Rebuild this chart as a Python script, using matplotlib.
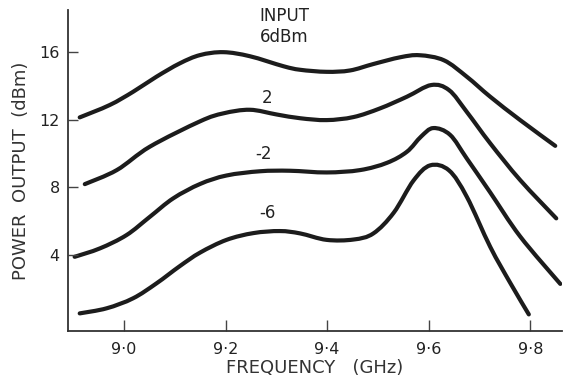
import matplotlib
matplotlib.use("Agg")
import matplotlib.pyplot as plt
from matplotlib.path import Path
from matplotlib.patches import PathPatch
import numpy as np

# Data
freq_6 = [8.913, 8.972, 9.018, 9.064, 9.110, 9.150, 9.196, 9.248, 9.314, 9.347, 9.399, 9.445, 9.491, 9.544, 9.582, 9.630, 9.675, 9.721, 9.780, 9.849]
pout_6 = [12.13, 12.86, 13.64, 14.53, 15.32, 15.81, 15.98, 15.74, 15.15, 14.94, 14.82, 14.90, 15.28, 15.68, 15.80, 15.50, 14.53, 13.35, 11.97, 10.45]

freq_2 = [8.923, 8.986, 9.051, 9.150, 9.196, 9.248, 9.301, 9.347, 9.399, 9.452, 9.504, 9.557, 9.605, 9.640, 9.675, 9.721, 9.780, 9.851]
pout_2 = [8.19, 9.02, 10.40, 11.90, 12.37, 12.58, 12.30, 12.08, 11.97, 12.15, 12.66, 13.35, 14.04, 13.74, 12.45, 10.60, 8.43, 6.17]

freq_m2 = [8.903, 8.953, 9.005, 9.051, 9.097, 9.150, 9.202, 9.268, 9.327, 9.399, 9.465, 9.518, 9.557, 9.585, 9.609, 9.642, 9.675, 9.721, 9.780, 9.859]
pout_m2 = [3.90, 4.40, 5.18, 6.26, 7.35, 8.20, 8.70, 8.95, 8.98, 8.88, 9.02, 9.45, 10.10, 11.00, 11.50, 11.10, 9.70, 7.70, 5.10, 2.30]

freq_m6 = [8.913, 8.966, 9.018, 9.064, 9.110, 9.150, 9.202, 9.255, 9.307, 9.347, 9.399, 9.452, 9.491, 9.531, 9.570, 9.603, 9.640, 9.675, 9.721, 9.761, 9.797]
pout_m6 = [0.56, 0.86, 1.45, 2.33, 3.35, 4.15, 4.90, 5.30, 5.42, 5.28, 4.90, 4.92, 5.28, 6.50, 8.40, 9.30, 9.00, 7.44, 4.49, 2.33, 0.50]

x_ticks = [9.0, 9.2, 9.4, 9.6, 9.8]
x_tick_labels = ["9·0", "9·2", "9·4", "9·6", "9·8"]
y_ticks = [4, 8, 12, 16]
y_tick_labels = ["4", "8", "12", "16"]
curve_labels = ["2", "-2", "-6"]
curve_label_x = [9.282, 9.275, 9.282]
curve_label_y = [13.25, 9.96, 6.48]


def smooth_path(xs, ys):
    """Catmull-Rom curve through the data points, as cubic Bezier segments."""
    p = np.column_stack([xs, ys]).astype(float)
    ext = np.vstack([p[0], p, p[-1]])
    verts = [p[0]]
    codes = [Path.MOVETO]
    for i in range(1, len(ext) - 2):
        p0, p1, p2, p3 = ext[i - 1], ext[i], ext[i + 1], ext[i + 2]
        c1 = p1 + (p2 - p0) / 6.0
        c2 = p2 - (p3 - p1) / 6.0
        verts += [c1, c2, p2]
        codes += [Path.CURVE4] * 3
    return Path(verts, codes)


plt.rcParams['font.family'] = ['DejaVu Sans']
fig = plt.figure(figsize=(5.65, 3.77), dpi=100)
ax = fig.add_axes([0.1204, 0.122, 0.874, 0.8515])

ink = "#1c1c1c"
for fx, py in [(freq_6, pout_6), (freq_2, pout_2), (freq_m2, pout_m2), (freq_m6, pout_m6)]:
    patch = PathPatch(smooth_path(fx, py), facecolor='none', edgecolor=ink,
                      lw=3.0, capstyle='round', joinstyle='round')
    ax.add_patch(patch)

ax.set_xlim(8.89, 9.862)
ax.set_ylim(-0.48, 18.47)
ax.spines['top'].set_visible(False)
ax.spines['right'].set_visible(False)
for s in ['left', 'bottom']:
    ax.spines[s].set_linewidth(1.3)
    ax.spines[s].set_color("#333333")

ax.set_xticks(x_ticks)
ax.set_xticklabels(x_tick_labels)
ax.set_yticks(y_ticks)
ax.set_yticklabels(y_tick_labels)
ax.tick_params(axis='x', direction='in', length=8, width=1.0, color="#444444", pad=8, labelsize=11.5, labelcolor="#222222")
ax.tick_params(axis='y', direction='in', length=7, width=1.0, color="#444444", pad=6, labelsize=11.5, labelcolor="#222222")

ax.set_xlabel("FREQUENCY   (GHz)", fontsize=13, color="#333333", labelpad=1)
ax.set_ylabel("POWER  OUTPUT  (dBm)", fontsize=13, color="#333333", labelpad=7)

ax.text(9.315, 18.11, "INPUT", ha='center', va='center', fontsize=12, color="#222222")
ax.text(9.315, 16.87, "6dBm", ha='center', va='center', fontsize=12, color="#222222")
for lab, lx, ly in zip(curve_labels, curve_label_x, curve_label_y):
    ax.text(lx, ly, lab, ha='center', va='center', fontsize=12, color="#222222")

fig.savefig("out.png", dpi=100)
